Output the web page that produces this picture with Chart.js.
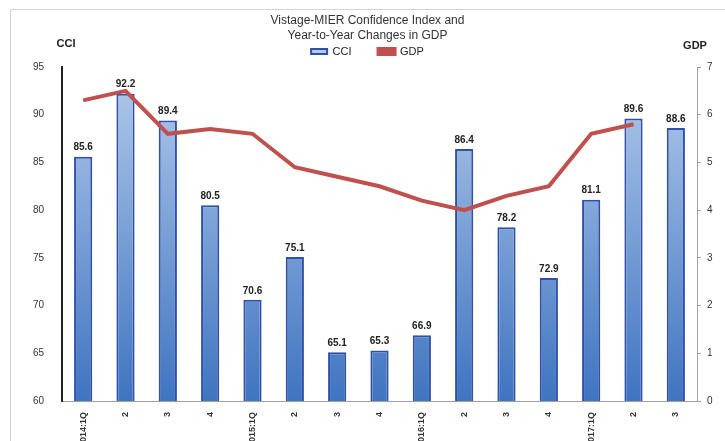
<!DOCTYPE html>
<html>
<head>
<meta charset="utf-8">
<script src="https://cdn.jsdelivr.net/npm/chart.js@4.4.1/dist/chart.umd.min.js"></script>
<style>
html,body{margin:0;padding:0;background:#fff;overflow:hidden;width:725px;height:441px;}
#wrap{position:relative;width:725px;height:462px;}
</style>
</head>
<body>
<div id="wrap"><canvas id="c" width="725" height="462"></canvas></div>
<script>
const quarters = ['2014:1Q','2','3','4','2015:1Q','2','3','4','2016:1Q','2','3','4','2017:1Q','2','3'];
const cciValues = [85.6, 92.2, 89.4, 80.5, 70.6, 75.1, 65.1, 65.3, 66.9, 86.4, 78.2, 72.9, 81.1, 89.6, 88.6];
const gdpValues = [6.3, 6.5, 5.6, 5.7, 5.6, 4.9, 4.7, 4.5, 4.2, 4.0, 4.3, 4.5, 5.6, 5.8, null];
const cciTicks = [60, 65, 70, 75, 80, 85, 90, 95];
const gdpTicks = [0, 1, 2, 3, 4, 5, 6, 7];

const FONT = 'Arial, "Liberation Sans", sans-serif';

const framePlugin = {
  id: 'frame',
  beforeDraw(chart) {
    const ctx = chart.ctx;
    ctx.save();
    ctx.fillStyle = '#fff';
    ctx.fillRect(0, 0, chart.width, chart.height);
    ctx.strokeStyle = '#d4d4d4';
    ctx.lineWidth = 1;
    ctx.strokeRect(10.5, 9.5, 900, 900);
    ctx.restore();
  },
  afterDraw(chart) {
    const ctx = chart.ctx;
    ctx.save();
    ctx.fillStyle = '#222';
    ctx.font = 'bold 11px ' + FONT;
    ctx.textAlign = 'center';
    ctx.textBaseline = 'middle';
    ctx.fillText('CCI', 66, 44);
    ctx.fillText('GDP', 695, 46);
    const meta = chart.getDatasetMeta(0);
    ctx.font = 'bold 10px ' + FONT;
    ctx.textBaseline = 'bottom';
    meta.data.forEach((bar, i) => {
      ctx.fillText(cciValues[i].toFixed(1), bar.x, bar.y - 4);
    });
    ctx.restore();
  }
};

function barFill(ctx) {
  const chart = ctx.chart;
  const area = chart.chartArea;
  if (!area) return '#6f97d3';
  const g = chart.ctx.createLinearGradient(0, area.top, 0, area.bottom);
  g.addColorStop(0, '#b3cbeb');
  g.addColorStop(1, '#3f74c0');
  return g;
}

new Chart(document.getElementById('c'), {
  data: {
    labels: quarters,
    datasets: [
      {
        type: 'bar',
        label: 'CCI',
        data: cciValues,
        yAxisID: 'y',
        backgroundColor: barFill,
        borderColor: '#2f4fa8',
        borderWidth: 2,
        borderSkipped: 'bottom',
        barPercentage: 0.43,
        categoryPercentage: 1.0,
        order: 2
      },
      {
        type: 'line',
        label: 'GDP',
        data: gdpValues,
        yAxisID: 'y1',
        borderColor: '#c0504d',
        backgroundColor: '#c0504d',
        borderWidth: 4,
        pointRadius: 0,
        tension: 0,
        spanGaps: false,
        order: 1
      }
    ]
  },
  options: {
    responsive: false,
    animation: false,
    layout: { padding: { left: 10, right: 0, top: 0, bottom: 0 } },
    plugins: {
      title: {
        display: true,
        text: ['Vistage-MIER Confidence Index and', 'Year-to-Year Changes in GDP'],
        color: '#333',
        font: { family: FONT, size: 12, weight: 'normal', lineHeight: 1.25 },
        padding: { top: 13, bottom: -2 }
      },
      legend: {
        display: true,
        labels: {
          color: '#222',
          font: { family: FONT, size: 11 },
          boxWidth: 16,
          boxHeight: 5,
          padding: 5,
          sort: (a, b) => a.datasetIndex - b.datasetIndex,
          generateLabels(chart) {
            const items = Chart.defaults.plugins.legend.labels.generateLabels(chart);
            items.forEach(it => { if (it.datasetIndex === 0) it.text = it.text + '\u2003\u2003'; });
            return items;
          }
        }
      },
      tooltip: { enabled: false }
    },
    scales: {
      x: {
        type: 'category',
        offset: true,
        grid: { display: false },
        border: { display: true, color: '#a0a0a0', width: 1 },
        ticks: {
          color: '#333',
          font: { family: FONT, size: 9, weight: 'bold' },
          minRotation: 90,
          maxRotation: 90,
          padding: 3,
          autoSkip: false
        },
        afterFit(scale) { scale.height = 61; }
      },
      y: {
        position: 'left',
        min: 60,
        max: 95,
        grid: { display: false },
        border: { display: true, color: '#222', width: 2 },
        afterBuildTicks(scale) { scale.ticks = cciTicks.map(v => ({ value: v })); },
        ticks: {
          color: '#333',
          font: { family: FONT, size: 10 },
          padding: 10
        },
        afterFit(scale) { scale.width = 52; }
      },
      y1: {
        position: 'right',
        min: 0,
        max: 7,
        grid: { display: true, drawOnChartArea: false, color: '#a0a0a0', tickLength: 4 },
        border: { display: true, color: '#a0a0a0', width: 1 },
        afterBuildTicks(scale) { scale.ticks = gdpTicks.map(v => ({ value: v })); },
        ticks: {
          color: '#333',
          font: { family: FONT, size: 10 },
          padding: 6
        },
        afterFit(scale) { scale.width = 28; }
      }
    }
  },
  plugins: [framePlugin]
});
</script>
</body>
</html>
